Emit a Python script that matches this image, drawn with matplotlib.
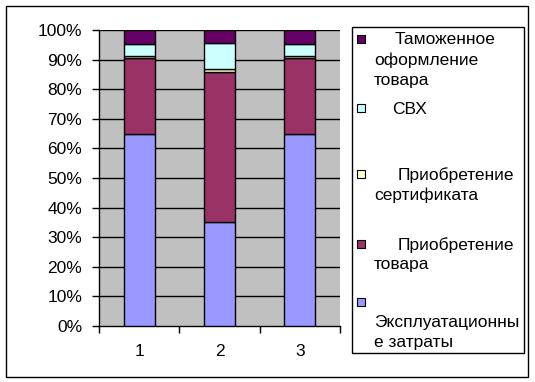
import matplotlib
matplotlib.use("Agg")
import matplotlib.pyplot as plt
from matplotlib.patches import Rectangle
import numpy as np

plt.rcParams["font.family"] = ["Liberation Sans", "DejaVu Sans"]

categories = ["1", "2", "3"]
expl = [65.0, 35.0, 65.0]        # Эксплуатационные затраты
tovar = [25.4, 50.7, 25.4]       # Приобретение товара
sert = [0.8, 1.0, 0.8]           # Приобретение сертификата
svh = [4.0, 8.8, 4.0]            # СВХ
tam = [4.8, 4.5, 4.8]            # Таможенное оформление товара

series = [expl, tovar, sert, svh, tam]
colors = ["#9999FF", "#993366", "#FFFFCC", "#CCFFFF", "#660066"]
y_ticks = list(range(0, 101, 10))
y_labels = [f"{v}%" for v in y_ticks]

# legend, top to bottom, broken into lines the way the original wraps them
legend_lines = [
    ["Таможенное", "оформление", "товара"],
    ["СВХ"],
    ["Приобретение", "сертификата"],
    ["Приобретение", "товара"],
    ["", "Эксплуатационны", "е затраты"],
]
legend_colors = ["#660066", "#CCFFFF", "#FFFFCC", "#993366", "#9999FF"]

W, H = 535, 382
FS = 12.5
fig = plt.figure(figsize=(W / 100, H / 100), dpi=100)
fig.patch.set_facecolor("white")

def fx(px):
    return px / W

def fy(py):
    return 1 - py / H

ax = fig.add_axes([fx(99), fy(326), fx(340) - fx(99), fy(30) - fy(326)])
ax.set_facecolor("#C0C0C0")

x = np.arange(len(categories))
bottom = np.zeros(len(categories))
for vals, c in zip(series, colors):
    ax.bar(x, vals, width=0.39, bottom=bottom, color=c, edgecolor="black",
           linewidth=1.0, zorder=3)
    bottom += np.array(vals)

for v in y_ticks[1:]:
    ax.axhline(v, color="black", linewidth=1.0, zorder=1)

ax.set_xlim(-0.5, len(categories) - 0.5)
ax.set_ylim(0, 100)
ax.set_yticks(y_ticks)
ax.set_yticklabels(y_labels, fontsize=FS)
ax.set_xticks(x)
ax.set_xticklabels(categories, fontsize=FS)
ax.set_xticks(np.arange(-0.5, len(categories)), minor=True)
ax.tick_params(axis="x", which="major", length=0, pad=13)
ax.tick_params(axis="x", which="minor", length=5, width=1, direction="out")
ax.tick_params(axis="y", length=5, width=1, direction="out", pad=7)
ax.spines[["top", "right"]].set_visible(False)
ax.spines[["left", "bottom"]].set_color("black")
ax.spines[["left", "bottom"]].set_linewidth(1.0)

# outer chart border
fig.patches.append(Rectangle((fx(6), fy(377)), fx(528) - fx(6), fy(6) - fy(377),
                             transform=fig.transFigure, fill=False,
                             edgecolor="black", linewidth=1.0))

# legend box
fig.patches.append(Rectangle((fx(352), fy(353)), fx(524) - fx(352), fy(27) - fy(353),
                             transform=fig.transFigure, fill=False,
                             edgecolor="black", linewidth=1.0))

marker_y = [39, 108, 174, 244, 302]
first_x = [395, 392, 398, 398, 374]
for lines, c, my, x0 in zip(legend_lines, legend_colors, marker_y, first_x):
    fig.patches.append(Rectangle((fx(357), fy(my + 4)), fx(8), 8 / H,
                                 transform=fig.transFigure, facecolor=c,
                                 edgecolor="black", linewidth=0.8))
    for i, line in enumerate(lines):
        lx = x0 if i == 0 else 374
        fig.text(fx(lx), fy(my + 1 + 20 * i), line, fontsize=FS,
                 va="center", ha="left")

fig.savefig("out.png", dpi=100, facecolor="white")
